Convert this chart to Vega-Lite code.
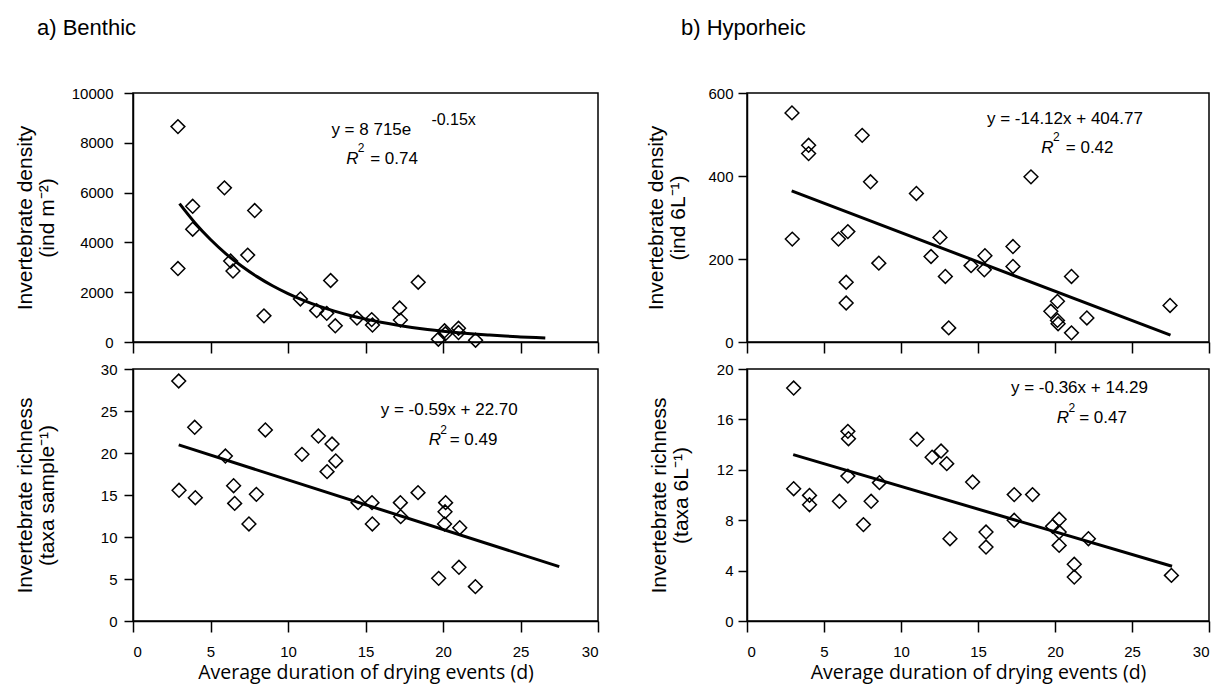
{
  "$schema": "https://vega.github.io/schema/vega-lite/v6.json",
  "padding": {"left": 13, "top": 16, "right": 5, "bottom": 2},
  "background": "white",
  "datasets": {
    "tl_pts": [
      {"x": 2.9, "y": 8650}, {"x": 2.9, "y": 2950}, {"x": 3.85, "y": 5450}, {"x": 3.85, "y": 4530},
      {"x": 5.9, "y": 6190}, {"x": 6.3, "y": 3250}, {"x": 6.45, "y": 2850}, {"x": 7.4, "y": 3490},
      {"x": 7.85, "y": 5280}, {"x": 8.45, "y": 1050}, {"x": 10.8, "y": 1730}, {"x": 11.85, "y": 1260},
      {"x": 12.5, "y": 1150}, {"x": 12.75, "y": 2470}, {"x": 13.05, "y": 650}, {"x": 14.45, "y": 960},
      {"x": 15.4, "y": 900}, {"x": 15.45, "y": 680}, {"x": 17.2, "y": 1365}, {"x": 17.25, "y": 880},
      {"x": 18.4, "y": 2400}, {"x": 19.7, "y": 110}, {"x": 20.1, "y": 450}, {"x": 20.15, "y": 330},
      {"x": 21.0, "y": 550}, {"x": 21.0, "y": 380}, {"x": 22.1, "y": 70}
    ],
    "tl_fit": [
      {"x": 3, "y": 5557}, {"x": 4, "y": 4783}, {"x": 5, "y": 4117}, {"x": 6, "y": 3543},
      {"x": 7, "y": 3050}, {"x": 8, "y": 2625}, {"x": 9, "y": 2259}, {"x": 10, "y": 1945},
      {"x": 11, "y": 1674}, {"x": 12, "y": 1441}, {"x": 13, "y": 1240}, {"x": 14, "y": 1067},
      {"x": 15, "y": 919}, {"x": 16, "y": 791}, {"x": 17, "y": 681}, {"x": 18, "y": 586},
      {"x": 19, "y": 504}, {"x": 20, "y": 434}, {"x": 21, "y": 373}, {"x": 22, "y": 321},
      {"x": 23, "y": 277}, {"x": 24, "y": 238}, {"x": 25, "y": 205}, {"x": 26, "y": 176},
      {"x": 26.6, "y": 161}
    ],
    "tl_txt": [
      {"part": "main", "x": 12.8, "y": 8322, "t": "y = 8 715e"},
      {"part": "sup", "x": 19.25, "y": 8727, "t": "-0.15x"},
      {"part": "R", "x": 13.75, "y": 7134, "t": "R"},
      {"part": "two", "x": 14.5, "y": 7620, "t": "2"},
      {"part": "main", "x": 15.3, "y": 7134, "t": "= 0.74"}
    ],
    "bl_pts": [
      {"x": 2.95, "y": 28.57}, {"x": 3.98, "y": 23.06}, {"x": 2.97, "y": 15.56}, {"x": 4.02, "y": 14.68},
      {"x": 5.96, "y": 19.64}, {"x": 6.49, "y": 16.11}, {"x": 6.56, "y": 14.0}, {"x": 7.48, "y": 11.55},
      {"x": 7.96, "y": 15.08}, {"x": 8.54, "y": 22.74}, {"x": 10.9, "y": 19.84}, {"x": 11.96, "y": 22.02},
      {"x": 12.84, "y": 21.07}, {"x": 12.52, "y": 17.78}, {"x": 13.08, "y": 19.05}, {"x": 14.52, "y": 14.09},
      {"x": 15.42, "y": 14.09}, {"x": 15.44, "y": 11.55}, {"x": 17.25, "y": 14.09}, {"x": 17.27, "y": 12.42},
      {"x": 18.39, "y": 15.28}, {"x": 20.17, "y": 14.09}, {"x": 20.13, "y": 13.0}, {"x": 20.1, "y": 11.55},
      {"x": 21.08, "y": 11.11}, {"x": 19.72, "y": 5.08}, {"x": 21.03, "y": 6.39}, {"x": 22.09, "y": 4.09}
    ],
    "bl_fit": [{"x": 2.95, "y": 20.96}, {"x": 27.5, "y": 6.47}],
    "bl_txt": [
      {"part": "main", "x": 15.98, "y": 24.52, "t": "y = -0.59x + 22.70"},
      {"part": "R", "x": 19.08, "y": 20.95, "t": "R"},
      {"part": "two", "x": 19.83, "y": 22.3, "t": "2"},
      {"part": "main", "x": 20.43, "y": 20.95, "t": "= 0.49"}
    ],
    "tr_pts": [
      {"x": 2.92, "y": 552}, {"x": 4.0, "y": 474}, {"x": 4.0, "y": 454}, {"x": 7.48, "y": 498},
      {"x": 8.02, "y": 386}, {"x": 11.0, "y": 358}, {"x": 18.44, "y": 398}, {"x": 2.94, "y": 248},
      {"x": 5.94, "y": 248}, {"x": 6.55, "y": 266}, {"x": 6.44, "y": 144}, {"x": 6.44, "y": 94},
      {"x": 8.56, "y": 190}, {"x": 11.95, "y": 206}, {"x": 12.53, "y": 252}, {"x": 12.88, "y": 158},
      {"x": 13.1, "y": 34}, {"x": 14.55, "y": 184}, {"x": 15.45, "y": 208}, {"x": 15.41, "y": 174},
      {"x": 17.27, "y": 230}, {"x": 17.27, "y": 182}, {"x": 21.07, "y": 158}, {"x": 20.16, "y": 98},
      {"x": 19.73, "y": 74}, {"x": 20.16, "y": 52}, {"x": 20.2, "y": 44}, {"x": 21.07, "y": 22},
      {"x": 22.07, "y": 58}, {"x": 27.47, "y": 88}
    ],
    "tr_fit": [{"x": 2.9, "y": 364}, {"x": 27.5, "y": 16.5}],
    "tr_txt": [
      {"part": "main", "x": 15.58, "y": 525.5, "t": "y = -14.12x + 404.77"},
      {"part": "R", "x": 19.1, "y": 456, "t": "R"},
      {"part": "two", "x": 19.87, "y": 485, "t": "2"},
      {"part": "main", "x": 20.7, "y": 456, "t": "= 0.42"}
    ],
    "br_pts": [
      {"x": 3.03, "y": 18.49}, {"x": 3.03, "y": 10.5}, {"x": 4.06, "y": 9.97}, {"x": 4.06, "y": 9.23},
      {"x": 6.55, "y": 15.05}, {"x": 6.59, "y": 14.47}, {"x": 6.55, "y": 11.5}, {"x": 6.0, "y": 9.5},
      {"x": 7.56, "y": 7.65}, {"x": 8.06, "y": 9.5}, {"x": 8.6, "y": 10.98}, {"x": 11.04, "y": 14.42},
      {"x": 12.02, "y": 13.0}, {"x": 12.6, "y": 13.49}, {"x": 12.97, "y": 12.49}, {"x": 13.18, "y": 6.53},
      {"x": 14.65, "y": 11.03}, {"x": 15.52, "y": 7.06}, {"x": 15.52, "y": 5.87}, {"x": 17.35, "y": 10.03},
      {"x": 18.54, "y": 10.03}, {"x": 17.35, "y": 7.99}, {"x": 19.84, "y": 7.51}, {"x": 20.27, "y": 8.07},
      {"x": 20.27, "y": 7.06}, {"x": 20.27, "y": 6.0}, {"x": 21.25, "y": 4.5}, {"x": 21.25, "y": 3.49},
      {"x": 22.17, "y": 6.53}, {"x": 27.56, "y": 3.62}
    ],
    "br_fit": [{"x": 3.0, "y": 13.2}, {"x": 27.6, "y": 4.35}],
    "br_txt": [
      {"part": "main", "x": 17.14, "y": 18.1, "t": "y = -0.36x + 14.29"},
      {"part": "R", "x": 20.12, "y": 15.71, "t": "R"},
      {"part": "two", "x": 20.88, "y": 16.6, "t": "2"},
      {"part": "main", "x": 21.57, "y": 15.71, "t": "= 0.47"}
    ]
  },
  "config": {
    "font": "Liberation Sans",
    "view": {"stroke": "black", "strokeWidth": 1.5},
    "axis": {
      "grid": false, "domainColor": "black", "domainWidth": 1.5,
      "tickColor": "black", "tickWidth": 1.5,
      "labelColor": "black", "labelFont": "Liberation Sans", "labelFontSize": 15,
      "titleColor": "black", "titleFont": "Liberation Sans", "titleFontWeight": "normal",
      "titleFontSize": 21, "titleLineHeight": 22
    },
    "axisX": {"tickSize": 11, "labelPadding": 12},
    "axisY": {"tickSize": 9, "titleBaseline": "bottom", "titleAngle": -90, "format": "d"},
    "title": {"font": "Liberation Sans", "fontSize": 22, "fontWeight": "normal", "color": "black", "anchor": "start", "frame": "group", "baseline": "alphabetic"}
  },
  "concat": [
    {
      "width": 465, "height": 249,
      "title": {"text": "a) Benthic", "dx": -96, "offset": 46},
      "encoding": {
        "x": {"field": "x", "type": "quantitative", "scale": {"domain": [0, 30], "nice": false},
              "axis": {"values": [0, 5, 10, 15, 20, 25, 30], "labels": false, "title": null}},
        "y": {"field": "y", "type": "quantitative", "scale": {"domain": [0, 10000], "nice": false},
              "axis": {"values": [0, 2000, 4000, 6000, 8000, 10000], "labelPadding": 11,
                       "title": ["Invertebrate density", "(ind m⁻²)"], "titleX": -98}}
      },
      "layer": [
        {"data": {"name": "tl_pts"}, "mark": {"type": "point", "shape": "diamond", "size": 190, "filled": false, "stroke": "black", "strokeWidth": 1.5, "opacity": 1}},
        {"data": {"name": "tl_fit"}, "mark": {"type": "line", "color": "black", "strokeWidth": 3, "interpolate": "monotone"}},
        {"data": {"name": "tl_txt"}, "transform": [{"filter": "datum.part == 'main'"}], "mark": {"type": "text", "align": "left", "baseline": "alphabetic", "fontSize": 17, "color": "black"}, "encoding": {"text": {"field": "t"}}},
        {"data": {"name": "tl_txt"}, "transform": [{"filter": "datum.part == 'sup'"}], "mark": {"type": "text", "align": "left", "baseline": "alphabetic", "fontSize": 16, "color": "black"}, "encoding": {"text": {"field": "t"}}},
        {"data": {"name": "tl_txt"}, "transform": [{"filter": "datum.part == 'R'"}], "mark": {"type": "text", "align": "left", "baseline": "alphabetic", "fontSize": 17, "fontStyle": "italic", "color": "black"}, "encoding": {"text": {"field": "t"}}},
        {"data": {"name": "tl_txt"}, "transform": [{"filter": "datum.part == 'two'"}], "mark": {"type": "text", "align": "left", "baseline": "alphabetic", "fontSize": 12, "color": "black"}, "encoding": {"text": {"field": "t"}}}
      ]
    },
    {
      "width": 462, "height": 249,
      "title": {"text": "b) Hyporheic", "dx": -66, "offset": 46},
      "encoding": {
        "x": {"field": "x", "type": "quantitative", "scale": {"domain": [0, 30], "nice": false},
              "axis": {"values": [0, 5, 10, 15, 20, 25, 30], "labels": false, "title": null}},
        "y": {"field": "y", "type": "quantitative", "scale": {"domain": [0, 600], "nice": false},
              "axis": {"values": [0, 200, 400, 600], "labelPadding": 5,
                       "title": ["Invertebrate density", "(ind 6L⁻¹)"], "titleX": -81}}
      },
      "layer": [
        {"data": {"name": "tr_pts"}, "mark": {"type": "point", "shape": "diamond", "size": 190, "filled": false, "stroke": "black", "strokeWidth": 1.5, "opacity": 1}},
        {"data": {"name": "tr_fit"}, "mark": {"type": "line", "color": "black", "strokeWidth": 3}},
        {"data": {"name": "tr_txt"}, "transform": [{"filter": "datum.part == 'main'"}], "mark": {"type": "text", "align": "left", "baseline": "alphabetic", "fontSize": 17, "color": "black"}, "encoding": {"text": {"field": "t"}}},
        {"data": {"name": "tr_txt"}, "transform": [{"filter": "datum.part == 'R'"}], "mark": {"type": "text", "align": "left", "baseline": "alphabetic", "fontSize": 17, "fontStyle": "italic", "color": "black"}, "encoding": {"text": {"field": "t"}}},
        {"data": {"name": "tr_txt"}, "transform": [{"filter": "datum.part == 'two'"}], "mark": {"type": "text", "align": "left", "baseline": "alphabetic", "fontSize": 12, "color": "black"}, "encoding": {"text": {"field": "t"}}}
      ]
    },
    {
      "width": 465, "height": 252,
      "encoding": {
        "x": {"field": "x", "type": "quantitative", "scale": {"domain": [0, 30], "nice": false},
              "axis": {"values": [0, 5, 10, 15, 20, 25, 30], "title": "Average duration of drying events (d)",
                       "titleFont": "Open Sans", "titleFontSize": 19.5, "titlePadding": 4}},
        "y": {"field": "y", "type": "quantitative", "scale": {"domain": [0, 30], "nice": false},
              "axis": {"values": [0, 5, 10, 15, 20, 25, 30], "labelPadding": 7,
                       "title": ["Invertebrate richness", "(taxa sample⁻¹)"], "titleX": -98}}
      },
      "layer": [
        {"data": {"name": "bl_pts"}, "mark": {"type": "point", "shape": "diamond", "size": 190, "filled": false, "stroke": "black", "strokeWidth": 1.5, "opacity": 1}},
        {"data": {"name": "bl_fit"}, "mark": {"type": "line", "color": "black", "strokeWidth": 3}},
        {"data": {"name": "bl_txt"}, "transform": [{"filter": "datum.part == 'main'"}], "mark": {"type": "text", "align": "left", "baseline": "alphabetic", "fontSize": 17, "color": "black"}, "encoding": {"text": {"field": "t"}}},
        {"data": {"name": "bl_txt"}, "transform": [{"filter": "datum.part == 'R'"}], "mark": {"type": "text", "align": "left", "baseline": "alphabetic", "fontSize": 17, "fontStyle": "italic", "color": "black"}, "encoding": {"text": {"field": "t"}}},
        {"data": {"name": "bl_txt"}, "transform": [{"filter": "datum.part == 'two'"}], "mark": {"type": "text", "align": "left", "baseline": "alphabetic", "fontSize": 12, "color": "black"}, "encoding": {"text": {"field": "t"}}}
      ]
    },
    {
      "width": 462, "height": 252,
      "encoding": {
        "x": {"field": "x", "type": "quantitative", "scale": {"domain": [0, 30], "nice": false},
              "axis": {"values": [0, 5, 10, 15, 20, 25, 30], "title": "Average duration of drying events (d)",
                       "titleFont": "Open Sans", "titleFontSize": 19.5, "titlePadding": 4}},
        "y": {"field": "y", "type": "quantitative", "scale": {"domain": [0, 20], "nice": false},
              "axis": {"values": [0, 4, 8, 12, 16, 20], "labelPadding": 5,
                       "title": ["Invertebrate richness", "(taxa 6L⁻¹)"], "titleX": -78}}
      },
      "layer": [
        {"data": {"name": "br_pts"}, "mark": {"type": "point", "shape": "diamond", "size": 190, "filled": false, "stroke": "black", "strokeWidth": 1.5, "opacity": 1}},
        {"data": {"name": "br_fit"}, "mark": {"type": "line", "color": "black", "strokeWidth": 3}},
        {"data": {"name": "br_txt"}, "transform": [{"filter": "datum.part == 'main'"}], "mark": {"type": "text", "align": "left", "baseline": "alphabetic", "fontSize": 17, "color": "black"}, "encoding": {"text": {"field": "t"}}},
        {"data": {"name": "br_txt"}, "transform": [{"filter": "datum.part == 'R'"}], "mark": {"type": "text", "align": "left", "baseline": "alphabetic", "fontSize": 17, "fontStyle": "italic", "color": "black"}, "encoding": {"text": {"field": "t"}}},
        {"data": {"name": "br_txt"}, "transform": [{"filter": "datum.part == 'two'"}], "mark": {"type": "text", "align": "left", "baseline": "alphabetic", "fontSize": 12, "color": "black"}, "encoding": {"text": {"field": "t"}}}
      ]
    }
  ],
  "columns": 2,
  "align": "each",
  "spacing": {"row": 6, "column": 44}
}
